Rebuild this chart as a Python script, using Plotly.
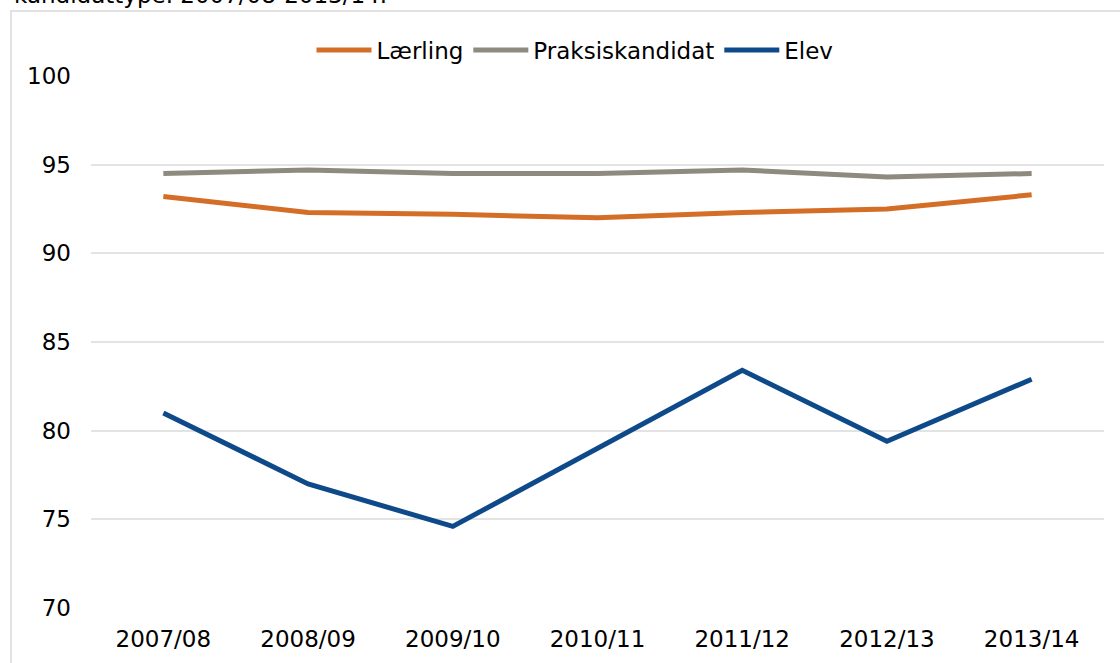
import plotly.graph_objects as go

categories = ["2007/08", "2008/09", "2009/10", "2010/11", "2011/12", "2012/13", "2013/14"]
laerling = [93.2, 92.3, 92.2, 92.0, 92.3, 92.5, 93.3]
praksiskandidat = [94.5, 94.7, 94.5, 94.5, 94.7, 94.3, 94.5]
elev = [81.0, 77.0, 74.6, 79.0, 83.4, 79.4, 82.9]
y_ticks = [70, 75, 80, 85, 90, 95, 100]

FONT = "DejaVu Sans"
FS = 23

fig = go.Figure()
fig.add_trace(go.Scatter(x=categories, y=laerling, mode="lines", name="Lærling",
                         line=dict(color="#D46E27", width=5)))
fig.add_trace(go.Scatter(x=categories, y=praksiskandidat, mode="lines", name="Praksiskandidat",
                         line=dict(color="#8E8A7E", width=5)))
fig.add_trace(go.Scatter(x=categories, y=elev, mode="lines", name="Elev",
                         line=dict(color="#0E4A8A", width=5)))

L, R, T, B = 91, 16, 76, 55
W, H = 1120, 663
pw, ph = W - L - R, H - T - B

def px_x(p):
    return (p - L) / pw

def px_y(p):
    return 1 + (T - p) / ph

fig.update_layout(
    width=W, height=H,
    margin=dict(l=L, r=R, t=T, b=B, autoexpand=False),
    paper_bgcolor="white", plot_bgcolor="white",
    font=dict(family=FONT, size=FS, color="#000000"),
    showlegend=True,
    legend=dict(orientation="h", x=px_x(575), xanchor="center", y=px_y(50), yanchor="middle",
                font=dict(family=FONT, size=FS, color="#000000"),
                itemwidth=55, bgcolor="rgba(0,0,0,0)"),
    xaxis=dict(type="category", range=[-0.5, 6.5], showgrid=False, showline=False,
               zeroline=False, ticks="", automargin=False,
               tickfont=dict(family=FONT, size=FS, color="#000000"),
               ticklabelstandoff=15),
    yaxis=dict(range=[70, 100], tickvals=y_ticks, showgrid=True, gridcolor="#E3E3E3",
               gridwidth=1.5, zeroline=False, showline=False, ticks="", automargin=False,
               tickfont=dict(family=FONT, size=FS, color="#000000"),
               ticklabelstandoff=19),
    shapes=[dict(type="rect", xref="paper", yref="paper",
                 x0=px_x(11), x1=px_x(1140), y0=px_y(11), y1=px_y(700),
                 line=dict(color="#D9D9D9", width=1.5), layer="below")],
    annotations=[dict(text="kandidattype. 2007/08-2013/14.", xref="paper", yref="paper",
                      x=px_x(12), xanchor="left", y=px_y(-5), yanchor="middle",
                      showarrow=False, font=dict(family=FONT, size=FS, color="#000000"))],
)

fig.write_html("out.html", config={"displayModeBar": False},
               post_script="document.body.style.margin='0';")
